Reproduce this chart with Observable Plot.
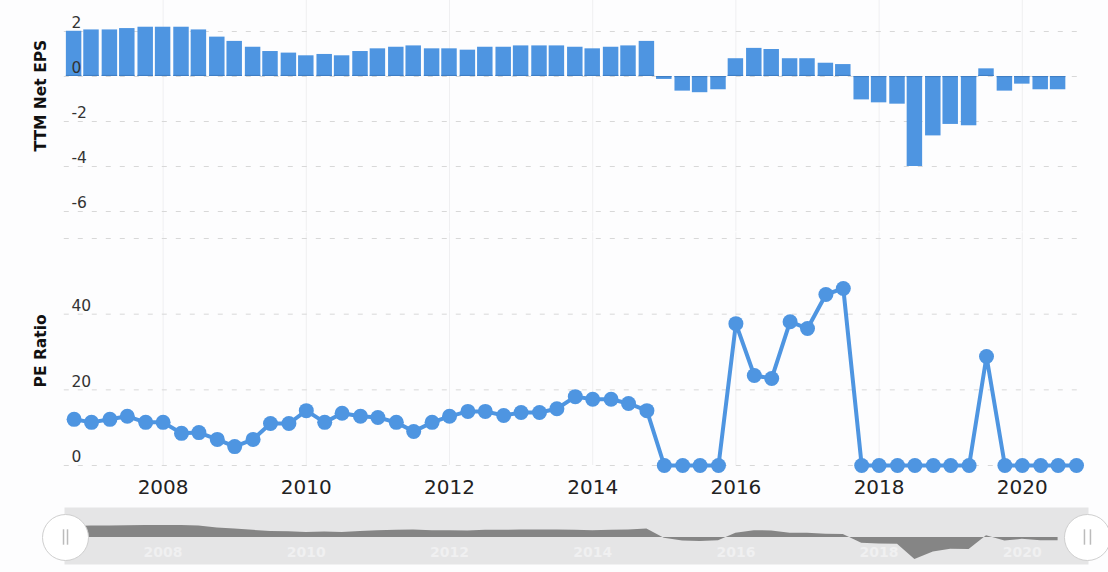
<!DOCTYPE html>
<html>
<head>
<meta charset="utf-8">
<script src="https://cdn.jsdelivr.net/npm/d3@7"></script>
<script src="https://cdn.jsdelivr.net/npm/@observablehq/plot@0.6"></script>
<style>
html,body{margin:0;padding:0;background:#fdfdfe;overflow:hidden}
svg{display:block;background:transparent!important}
#chart{width:1108px;height:572px}
</style>
</head>
<body>
<div id="chart"></div>
<script>
const quarters = [
  2006.757,
  2007,2007.257,2007.5,2007.757,
  2008,2008.257,2008.5,2008.757,
  2009,2009.257,2009.5,2009.757,
  2010,2010.257,2010.5,2010.757,
  2011,2011.257,2011.5,2011.757,
  2012,2012.257,2012.5,2012.757,
  2013,2013.257,2013.5,2013.757,
  2014,2014.257,2014.5,2014.757,
  2015,2015.257,2015.5,2015.757,
  2016,2016.257,2016.5,2016.757,
  2017,2017.257,2017.5,2017.757,
  2018,2018.257,2018.5,2018.757,
  2019,2019.257,2019.5,2019.757,
  2020,2020.257,2020.5,2020.757
];
const epsValues = [
  2.01,
  2.07,2.07,2.13,2.19,
  2.19,2.19,2.07,1.75,
  1.56,1.30,1.11,1.04,
  0.92,0.98,0.92,1.11,
  1.23,1.30,1.36,1.23,
  1.23,1.17,1.30,1.30,
  1.36,1.36,1.36,1.30,
  1.23,1.30,1.36,1.56,
  -0.13,-0.65,-0.72,-0.59,
  0.79,1.25,1.20,0.79,
  0.79,0.59,0.53,-1.04,
  -1.17,-1.23,-4.00,-2.64,
  -2.13,-2.19,0.34,-0.65,
  -0.34,-0.59,-0.59
];
const peValues = [
  12.2,
  11.4,12.2,13.0,11.4,
  11.4,8.5,8.7,6.9,
  5.0,6.9,11.1,11.1,
  14.5,11.4,13.8,13.0,
  12.7,11.4,9.0,11.4,
  13.0,14.3,14.3,13.2,
  14.0,14.0,15.0,18.2,
  17.5,17.5,16.4,14.5,
  0,0,0,0,
  37.5,23.8,23.0,38.0,
  36.2,45.2,46.8,0,
  0,0,0,0,
  0,0,28.8,0,
  0,0,0,0
];
const yearTicks = [2008,2010,2012,2014,2016,2018,2020];
const epsTicks = [2,0,-2,-4,-6];
const peGrid = [0,20,40,60];
const peTicks = [0,20,40];
const xDomain = [2006,2021];
const xRange = [19.4,1093.4];
const gridEnds = [2006.62,2020.79];
const navEnds = [2006.637,2020.91];
const barHalfWidth = 0.108;

const fontFamily = "'DejaVu Sans', Verdana, sans-serif";
const blue = "#4e95e1";
const epsRows = epsValues.map((v,i)=>({year:quarters[i],v}));
const peRows = peValues.map((v,i)=>({year:quarters[i],v}));
const x = {type:"linear",domain:xDomain,range:xRange,axis:null};
const chart = document.getElementById("chart");
const hGrid = (ticks)=>Plot.ruleY(ticks,{x1:gridEnds[0],x2:gridEnds[1],y:d=>d,stroke:"#d8d8d8",strokeWidth:1,strokeDasharray:"5,9"});
const plain = d=>String(d);

chart.append(Plot.plot({
  width:1108,height:232,marginLeft:71,marginRight:0,marginTop:0,marginBottom:0,
  style:{fontFamily,background:"transparent",overflow:"visible"},
  x,y:{domain:[2,-6],range:[31,211],axis:null},
  marks:[
    Plot.ruleX(yearTicks,{x:d=>d,y1:3.4,y2:-6.9,stroke:"#efeff1",strokeWidth:1}),
    hGrid(epsTicks),
    Plot.rectY(epsRows,{x1:d=>d.year-barHalfWidth,x2:d=>d.year+barHalfWidth,y1:0,y2:"v",fill:blue}),
    Plot.rectY(epsRows,{x1:d=>d.year-barHalfWidth,x2:d=>d.year+barHalfWidth,y1:0,y2:d=>Math.sign(d.v)*0.05,fill:"#3f7fc6"}),
    Plot.axisY({ticks:epsTicks,anchor:"left",label:null,tickSize:0,tickPadding:0,textAnchor:"start",dy:-8,fontSize:15.5,color:"#333",tickFormat:plain}),
    Plot.text(["TTM Net EPS"],{frameAnchor:"left",dx:-30,y:[-0.85],rotate:-90,textAnchor:"middle",fontWeight:"bold",fontSize:15.5,fill:"#111"})
  ]
}));
chart.append(Plot.plot({
  width:1108,height:268,marginLeft:71,marginRight:0,marginTop:0,marginBottom:35,
  style:{fontFamily,background:"transparent",overflow:"visible"},
  x,y:{domain:[0,60],range:[233,6],axis:null},
  marks:[
    Plot.ruleX(yearTicks,{x:d=>d,y1:0,y2:61.5,stroke:"#efeff1",strokeWidth:1}),
    hGrid(peGrid),
    Plot.axisX({ticks:yearTicks,anchor:"bottom",label:null,tickSize:0,tickPadding:14,tickFormat:"d",fontSize:20,color:"#222"}),
    Plot.axisY({ticks:peTicks,anchor:"left",label:null,tickSize:0,tickPadding:0,textAnchor:"start",dy:-8,fontSize:15.5,color:"#333",tickFormat:plain}),
    Plot.line(peRows,{x:"year",y:"v",stroke:blue,strokeWidth:4}),
    Plot.dot(peRows,{x:"year",y:"v",r:7.5,fill:blue}),
    Plot.text(["PE Ratio"],{frameAnchor:"left",dx:-30,y:[30.3],rotate:-90,textAnchor:"middle",fontWeight:"bold",fontSize:15.5,fill:"#111"})
  ]
}));
chart.append(Plot.plot({
  width:1108,height:72,marginLeft:64,marginRight:20,marginTop:7,marginBottom:8,
  style:{fontFamily,background:"transparent",overflow:"visible"},
  x,y:{domain:[2,-4],range:[26,59],axis:null},
  marks:[
    Plot.frame({fill:"#e5e5e6",stroke:null}),
    Plot.areaY(epsRows,{x:"year",y1:0,y2:"v",fill:"#858585"}),
    Plot.text(yearTicks,{x:d=>d,text:plain,frameAnchor:"bottom",dy:-8,fontSize:14,fontWeight:"bold",fill:"#f0f0f1"}),
    Plot.dot(navEnds,{x:d=>d,y:[0,0],r:23,fill:"#fff",stroke:"#cfcfcf",strokeWidth:1}),
    Plot.ruleX([navEnds[0]],{x:d=>d,y1:1.4,y2:-1.4,dx:-2,stroke:"#bbb",strokeWidth:1.5}),
    Plot.ruleX([navEnds[0]],{x:d=>d,y1:1.4,y2:-1.4,dx:2,stroke:"#bbb",strokeWidth:1.5}),
    Plot.ruleX([navEnds[1]],{x:d=>d,y1:1.4,y2:-1.4,dx:-3,stroke:"#bbb",strokeWidth:1.5}),
    Plot.ruleX([navEnds[1]],{x:d=>d,y1:1.4,y2:-1.4,dx:3,stroke:"#bbb",strokeWidth:1.5})
  ]
}));
</script>
</body>
</html>
